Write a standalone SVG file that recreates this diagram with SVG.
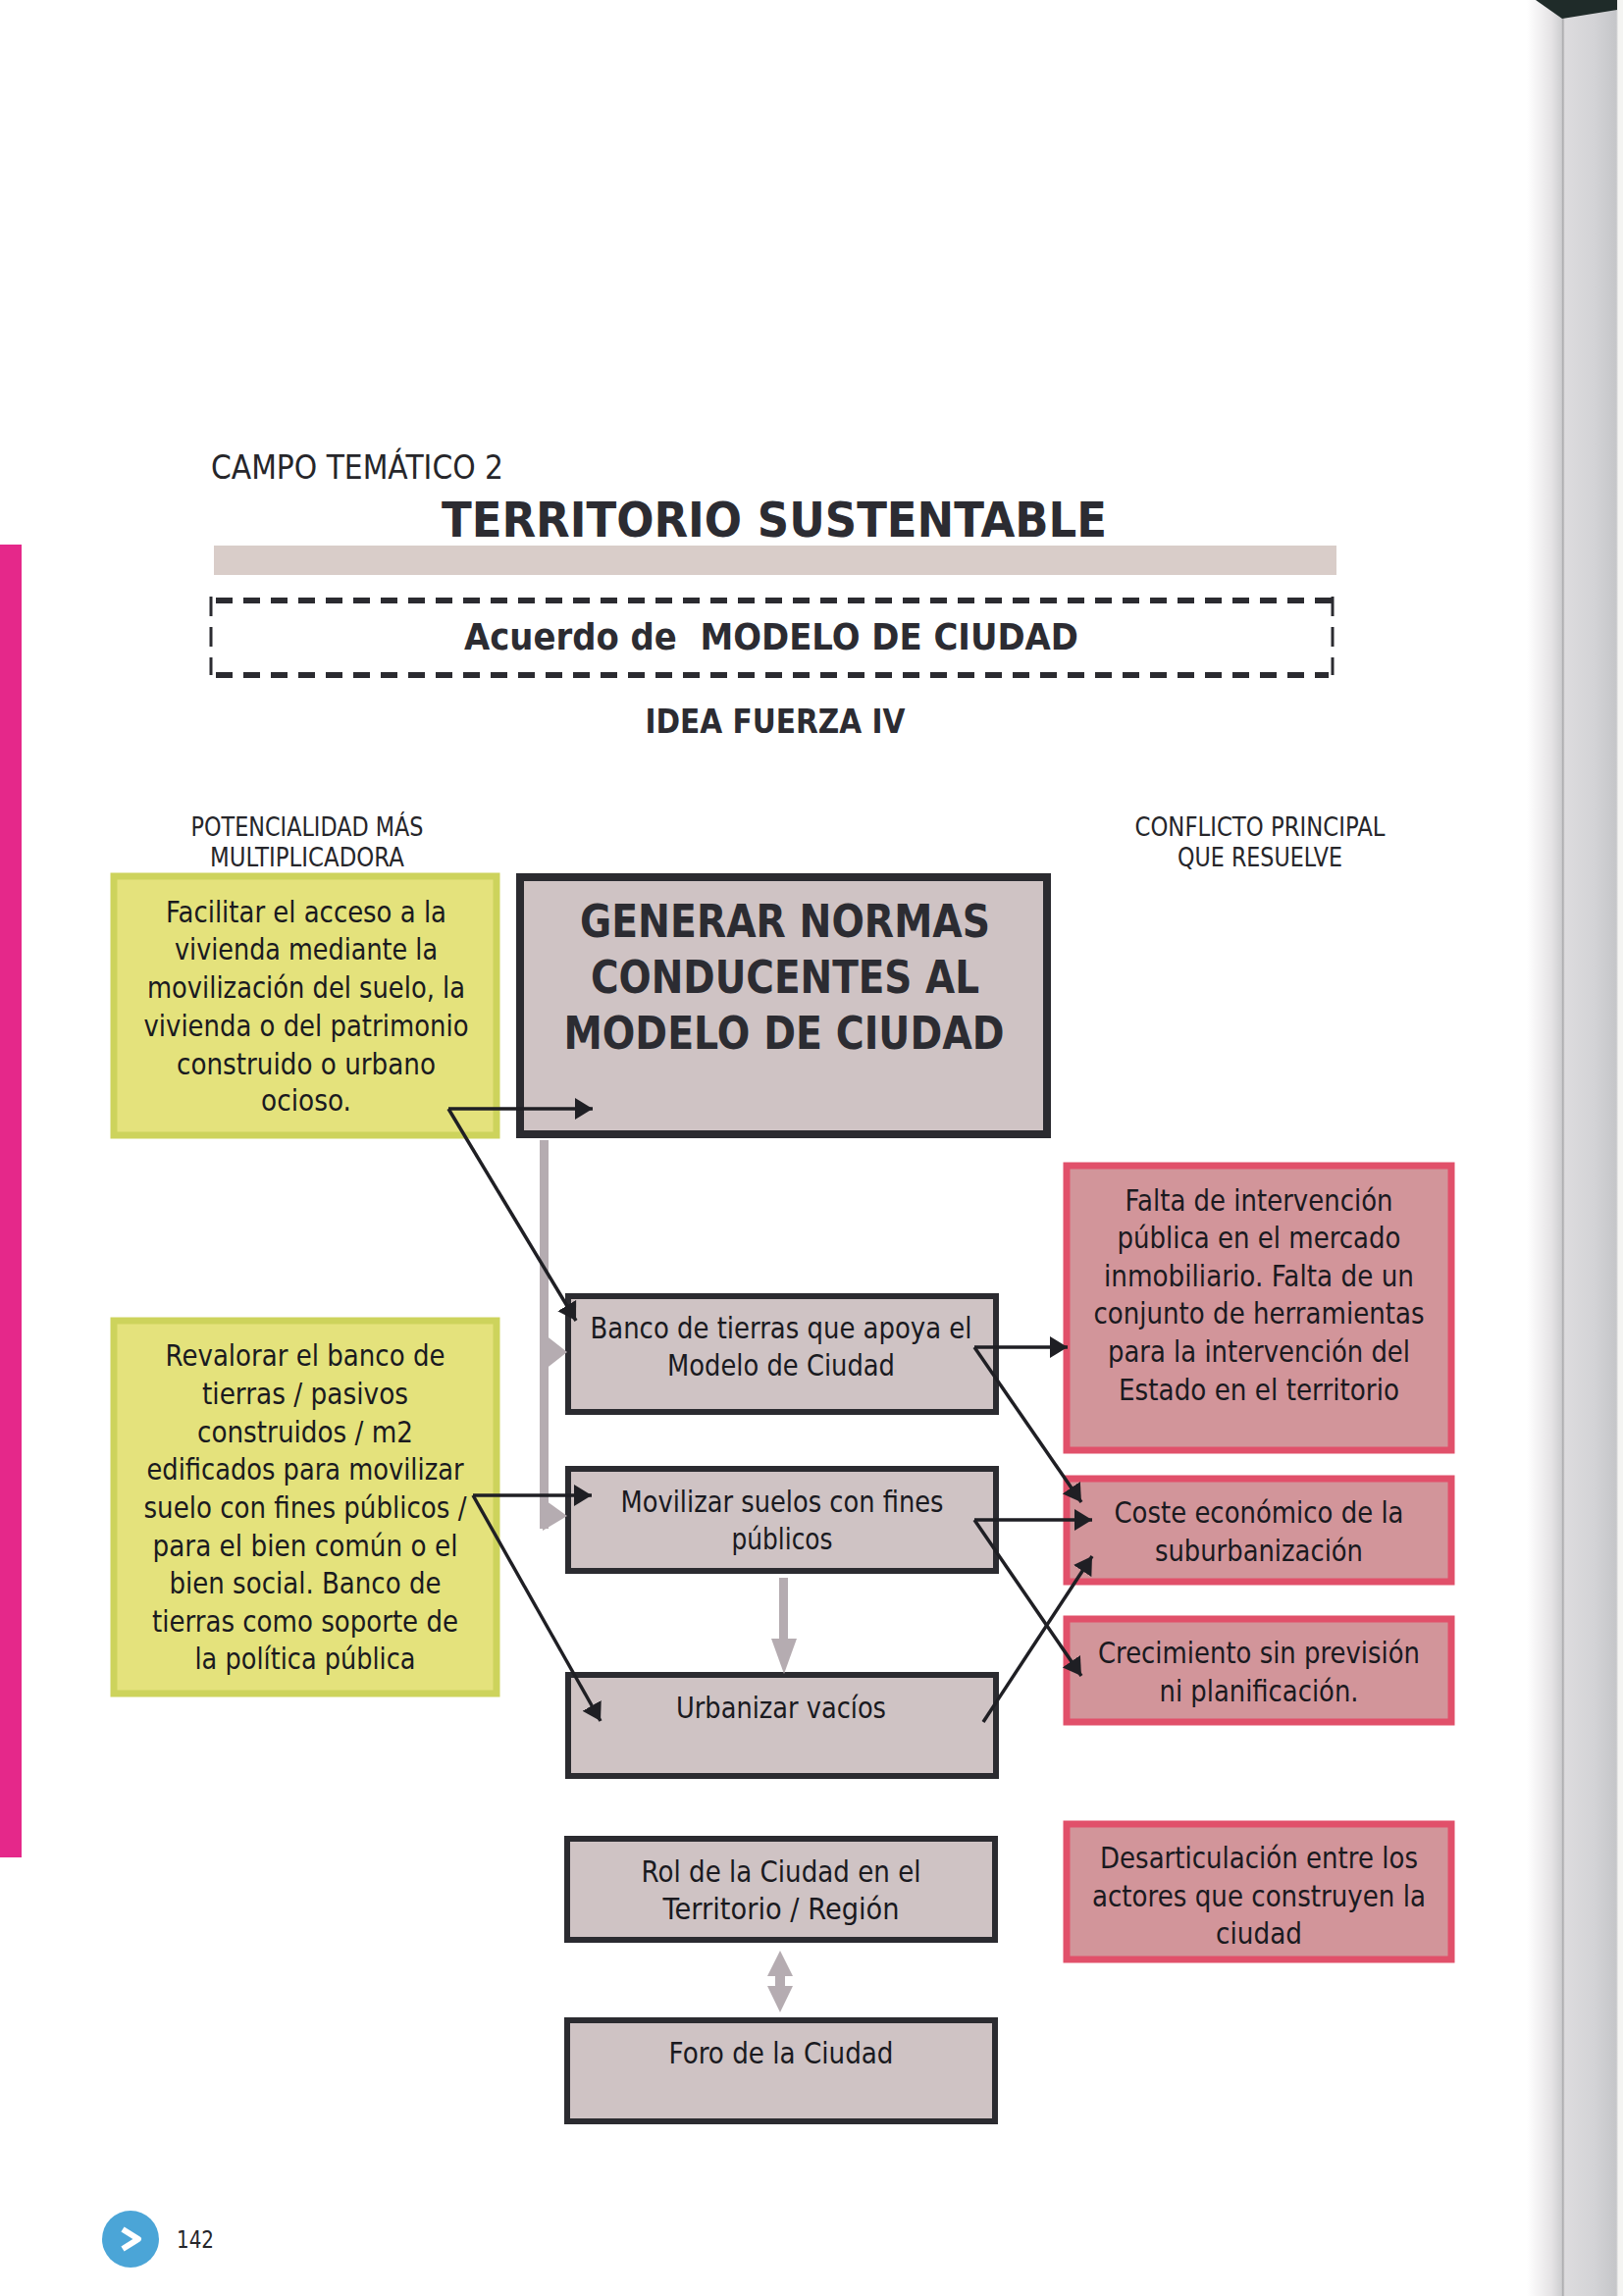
<svg xmlns="http://www.w3.org/2000/svg" width="1654" height="2340" viewBox="0 0 1654 2340">
<style>
text{font-family:"DejaVu Sans","Noto Sans",sans-serif;text-anchor:middle;fill:#1a1a1f}
.b{font-size:31px}
.h{font-size:26px;fill:#26262a}
.t{font-weight:700;fill:#2c2c32}
.g{fill:#cfc3c4;stroke:#2b2b30;stroke-width:6}
.y{fill:#e4e27c;stroke:#cdd35c;stroke-width:7}
.r{fill:#d2959a;stroke:#e1506a;stroke-width:7}
.c{fill:none;stroke:#1f1f24;stroke-width:3.5;marker-end:url(#a)}
.p{fill:#b5acb1}
.d{fill:none;stroke:#2b2b30}
</style>
<defs>
<marker id="a" markerUnits="userSpaceOnUse" markerWidth="20" markerHeight="22" refX="18" refY="11" orient="auto"><path d="M0 0L18 11L0 22Z" fill="#1f1f24"/></marker>
<linearGradient id="e" x1="0" x2="1" y1="0" y2="0"><stop offset="0" stop-color="#fff"/><stop offset=".25" stop-color="#e6e4e6"/><stop offset=".36" stop-color="#cfcfd1"/><stop offset=".375" stop-color="#a9a9ab"/><stop offset=".395" stop-color="#dddcde"/><stop offset=".7" stop-color="#d3d3d6"/><stop offset=".93" stop-color="#c5c6c9"/><stop offset=".95" stop-color="#f4f4f2"/><stop offset="1" stop-color="#f4f4f2"/></linearGradient>
</defs>
<rect width="1654" height="2340" fill="#fff"/>
<rect x="1556" y="0" width="98" height="2340" fill="url(#e)"/>
<path d="M1565 0L1592 19L1648 10V0Z" fill="#1f2b29"/>
<rect x="0" y="555" width="22" height="1338" fill="#e5288a"/>
<text class="h" x="364" y="488" style="font-size:33px" textLength="298" lengthAdjust="spacingAndGlyphs">CAMPO TEMÁTICO 2</text>
<text class="t" x="789" y="547" style="font-size:50px" textLength="678" lengthAdjust="spacingAndGlyphs">TERRITORIO SUSTENTABLE</text>
<rect x="218" y="556" width="1144" height="30" fill="#d9cdc9"/>
<g id="acuerdo">
<path class="d" d="M220 612H1358M220 688H1354" stroke-width="6" stroke-dasharray="17 11"/>
<path class="d" d="M215 608V688M1358 608V688" stroke-width="3" stroke-dasharray="20 11"/>
<text class="t" x="786" y="662" style="font-size:38px;white-space:pre" textLength="626" lengthAdjust="spacingAndGlyphs">Acuerdo de  MODELO DE CIUDAD</text>
</g>
<text class="t" x="790" y="747" style="font-size:33px" textLength="265" lengthAdjust="spacingAndGlyphs">IDEA FUERZA IV</text>
<g id="label-potencialidad"><text class="h" x="313" y="852" textLength="237" lengthAdjust="spacingAndGlyphs">POTENCIALIDAD MÁS</text><text class="h" x="313" y="883" textLength="198" lengthAdjust="spacingAndGlyphs">MULTIPLICADORA</text></g>
<g id="label-conflicto"><text class="h" x="1284" y="852" textLength="255" lengthAdjust="spacingAndGlyphs">CONFLICTO PRINCIPAL</text><text class="h" x="1284" y="883" textLength="168" lengthAdjust="spacingAndGlyphs">QUE RESUELVE</text></g>
<g id="pot-1"><rect class="y" x="116" y="893" width="390" height="264"/>
<text class="b" x="312" y="940" textLength="286" lengthAdjust="spacingAndGlyphs">Facilitar el acceso a la</text>
<text class="b" x="312" y="978" textLength="268" lengthAdjust="spacingAndGlyphs">vivienda mediante la</text>
<text class="b" x="312" y="1017" textLength="324" lengthAdjust="spacingAndGlyphs">movilización del suelo, la</text>
<text class="b" x="312" y="1056" textLength="331" lengthAdjust="spacingAndGlyphs">vivienda o del patrimonio</text>
<text class="b" x="312" y="1095" textLength="264" lengthAdjust="spacingAndGlyphs">construido o urbano</text>
<text class="b" x="312" y="1132" textLength="92" lengthAdjust="spacingAndGlyphs">ocioso.</text></g>
<g id="pot-2"><rect class="y" x="116" y="1346" width="390" height="380"/>
<text class="b" x="311" y="1392" textLength="285" lengthAdjust="spacingAndGlyphs">Revalorar el banco de</text>
<text class="b" x="311" y="1431" textLength="210" lengthAdjust="spacingAndGlyphs">tierras / pasivos</text>
<text class="b" x="311" y="1470" textLength="220" lengthAdjust="spacingAndGlyphs">construidos / m2</text>
<text class="b" x="311" y="1508" textLength="323" lengthAdjust="spacingAndGlyphs">edificados para movilizar</text>
<text class="b" x="311" y="1547" textLength="329" lengthAdjust="spacingAndGlyphs">suelo con fines públicos /</text>
<text class="b" x="311" y="1586" textLength="311" lengthAdjust="spacingAndGlyphs">para el bien común o el</text>
<text class="b" x="311" y="1624" textLength="277" lengthAdjust="spacingAndGlyphs">bien social. Banco de</text>
<text class="b" x="311" y="1663" textLength="312" lengthAdjust="spacingAndGlyphs">tierras como soporte de</text>
<text class="b" x="311" y="1701" textLength="225" lengthAdjust="spacingAndGlyphs">la política pública</text></g>
<g id="main"><rect class="g" x="530" y="894" width="537" height="262" style="stroke-width:8"/>
<text class="t" x="800" y="955" style="font-size:46px" textLength="418" lengthAdjust="spacingAndGlyphs">GENERAR NORMAS</text>
<text class="t" x="800" y="1012" style="font-size:46px" textLength="396" lengthAdjust="spacingAndGlyphs">CONDUCENTES AL</text>
<text class="t" x="799" y="1069" style="font-size:46px" textLength="449" lengthAdjust="spacingAndGlyphs">MODELO DE CIUDAD</text></g>
<g id="banco"><rect class="g" x="579" y="1321" width="436" height="118"/>
<text class="b" x="796" y="1364" textLength="389" lengthAdjust="spacingAndGlyphs">Banco de tierras que apoya el</text>
<text class="b" x="796" y="1402" textLength="232" lengthAdjust="spacingAndGlyphs">Modelo de Ciudad</text></g>
<g id="movilizar"><rect class="g" x="579" y="1497" width="436" height="104"/>
<text class="b" x="797" y="1541" textLength="329" lengthAdjust="spacingAndGlyphs">Movilizar suelos con fines</text>
<text class="b" x="797" y="1579" textLength="103" lengthAdjust="spacingAndGlyphs">públicos</text></g>
<g id="urbanizar"><rect class="g" x="579" y="1707" width="436" height="103"/>
<text class="b" x="796" y="1751" textLength="214" lengthAdjust="spacingAndGlyphs">Urbanizar vacíos</text></g>
<g id="rol"><rect class="g" x="578" y="1874" width="436" height="103"/>
<text class="b" x="796" y="1918" textLength="285" lengthAdjust="spacingAndGlyphs">Rol de la Ciudad en el</text>
<text class="b" x="796" y="1956" textLength="241" lengthAdjust="spacingAndGlyphs">Territorio / Región</text></g>
<g id="foro"><rect class="g" x="578" y="2059" width="436" height="103"/>
<text class="b" x="796" y="2103" textLength="229" lengthAdjust="spacingAndGlyphs">Foro de la Ciudad</text></g>
<g id="conf-1"><rect class="r" x="1087" y="1188" width="392" height="290"/>
<text class="b" x="1283" y="1234" textLength="273" lengthAdjust="spacingAndGlyphs">Falta de intervención</text>
<text class="b" x="1283" y="1272" textLength="289" lengthAdjust="spacingAndGlyphs">pública en el mercado</text>
<text class="b" x="1283" y="1311" textLength="316" lengthAdjust="spacingAndGlyphs">inmobiliario. Falta de un</text>
<text class="b" x="1283" y="1349" textLength="337" lengthAdjust="spacingAndGlyphs">conjunto de herramientas</text>
<text class="b" x="1283" y="1388" textLength="308" lengthAdjust="spacingAndGlyphs">para la intervención del</text>
<text class="b" x="1283" y="1427" textLength="286" lengthAdjust="spacingAndGlyphs">Estado en el territorio</text></g>
<g id="conf-2"><rect class="r" x="1087" y="1507" width="392" height="105"/>
<text class="b" x="1283" y="1552" textLength="295" lengthAdjust="spacingAndGlyphs">Coste económico de la</text>
<text class="b" x="1283" y="1591" textLength="212" lengthAdjust="spacingAndGlyphs">suburbanización</text></g>
<g id="conf-3"><rect class="r" x="1087" y="1650" width="392" height="105"/>
<text class="b" x="1283" y="1695" textLength="328" lengthAdjust="spacingAndGlyphs">Crecimiento sin previsión</text>
<text class="b" x="1283" y="1734" textLength="203" lengthAdjust="spacingAndGlyphs">ni planificación.</text></g>
<g id="conf-4"><rect class="r" x="1087" y="1859" width="392" height="138"/>
<text class="b" x="1283" y="1904" textLength="324" lengthAdjust="spacingAndGlyphs">Desarticulación entre los</text>
<text class="b" x="1283" y="1943" textLength="340" lengthAdjust="spacingAndGlyphs">actores que construyen la</text>
<text class="b" x="1283" y="1981" textLength="88" lengthAdjust="spacingAndGlyphs">ciudad</text></g>
<g id="connectors">
<rect class="p" x="550" y="1162" width="9" height="396"/>
<path class="p" d="M555 1360L578 1378L555 1396Z"/>
<path class="p" d="M553 1527L578 1545L553 1560Z"/>
<rect class="p" x="794" y="1608" width="9" height="62"/>
<path class="p" d="M786 1670H812L799 1706Z"/>
<path class="p" d="M795 1988L808 2014H800V2024H808L795 2051L782 2024H790V2014H782Z"/>
<line class="c" x1="457" y1="1130" x2="604" y2="1130"/>
<line class="c" x1="457" y1="1130" x2="587" y2="1346"/>
<line class="c" x1="993" y1="1373" x2="1088" y2="1373"/>
<line class="c" x1="993" y1="1373" x2="1102" y2="1531"/>
<line class="c" x1="993" y1="1549" x2="1113" y2="1549"/>
<line class="c" x1="993" y1="1549" x2="1102" y2="1708"/>
<line class="c" x1="1002" y1="1755" x2="1113" y2="1586"/>
<line class="c" x1="482" y1="1524" x2="603" y2="1524"/>
<line class="c" x1="482" y1="1524" x2="612" y2="1754"/>
</g>
<g id="page-number"><ellipse cx="133" cy="2282" rx="29" ry="29" fill="#4ba5d7"/>
<path d="M125 2272L141 2282L125 2292" fill="none" stroke="#fff" stroke-width="6" stroke-linejoin="round"/>
<text class="h" x="199" y="2291" style="font-size:24px" textLength="38" lengthAdjust="spacingAndGlyphs">142</text></g>
</svg>
